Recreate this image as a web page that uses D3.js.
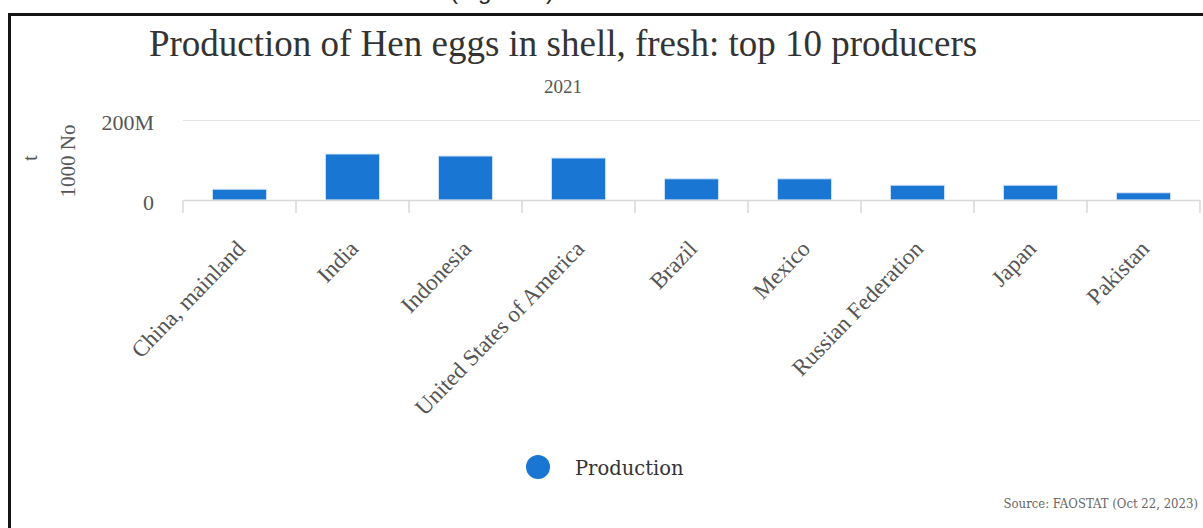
<!DOCTYPE html>
<html>
<head>
<meta charset="utf-8">
<script src="https://cdn.jsdelivr.net/npm/d3@7/dist/d3.min.js"></script>
<style>
  html, body { margin: 0; padding: 0; background: #ffffff; }
  svg { display: block; }
</style>
</head>
<body>
<svg id="chart" width="1203" height="528"></svg>
<script>
// Hen eggs in shell, fresh — production 2021 (unit: 1000 No)
const countries = ["China, mainland", "India", "Indonesia", "United States of America",
                   "Brazil", "Mexico", "Russian Federation", "Japan", "Pakistan"];
const production = [27e6, 115e6, 110e6, 105e6, 53e6, 53e6, 37e6, 37e6, 18e6];
const yTicks = [0, 200e6];
const seriesName = "Production";
const titleText = "Production of Hen eggs in shell, fresh: top 10 producers";
const subtitleText = "2021";
const yTitles = ["t", "1000 No"];
const sourceText = "Source: FAOSTAT (Oct 22, 2023)";
const captionText = "(Figure 1)";

const W = 1203, H = 528;
const plot = { left: 183, right: 1200, top: 120, bottom: 200 };
const barColor = "#1976d2";
const serif = "'Liberation Serif', 'Times New Roman', serif";
const slab = "'DejaVu Serif', serif";

const svg = d3.select("#chart");
svg.append("rect").attr("width", W).attr("height", H).attr("fill", "#fff");

// caption of the page above, mostly out of frame
svg.append("text")
  .attr("x", 450).attr("y", -1)
  .attr("font-family", "'Liberation Sans', Arial, sans-serif")
  .attr("font-size", 24).attr("fill", "#222")
  .text(captionText);

// frame
svg.append("rect")
  .attr("x", 9.5).attr("y", 14.5).attr("width", 1400).attr("height", 800)
  .attr("fill", "none").attr("stroke", "#151515").attr("stroke-width", 3);

const x = d3.scaleBand().domain(countries)
  .range([plot.left, plot.right]).paddingInner(0.52).paddingOuter(0.26);
const y = d3.scaleLinear().domain([0, 200e6]).range([plot.bottom, plot.top]);

// title & subtitle
svg.append("text")
  .attr("x", 563).attr("y", 56).attr("text-anchor", "middle")
  .attr("font-family", serif).attr("font-size", 37).attr("fill", "#333")
  .text(titleText);
svg.append("text")
  .attr("x", 563).attr("y", 93).attr("text-anchor", "middle")
  .attr("font-family", serif).attr("font-size", 19).attr("fill", "#555")
  .text(subtitleText);

// y grid + labels
const yAxis = svg.append("g")
  .attr("transform", `translate(${plot.left},0)`)
  .call(d3.axisLeft(y).tickValues(yTicks).tickFormat(d3.format("~s"))
        .tickSize(-(plot.right - plot.left)).tickPadding(0));
yAxis.select(".domain").remove();
yAxis.selectAll(".tick line").attr("stroke", "#e3e3e3").attr("stroke-width", 1);
yAxis.selectAll(".tick text")
  .attr("x", -29).attr("dy", 9)
  .attr("font-family", serif).attr("font-size", 22).attr("fill", "#555");

// y axis titles
svg.append("text")
  .attr("transform", `translate(75,161) rotate(-90)`)
  .attr("text-anchor", "middle")
  .attr("font-family", serif).attr("font-size", 21).attr("fill", "#555")
  .text(yTitles[1]);
svg.append("text")
  .attr("transform", `translate(37,158) rotate(-90)`)
  .attr("text-anchor", "middle")
  .attr("font-family", serif).attr("font-size", 21).attr("fill", "#555")
  .text(yTitles[0]);

// bars
svg.append("g").selectAll("rect")
  .data(countries)
  .join("rect")
  .attr("x", d => x(d))
  .attr("width", x.bandwidth())
  .attr("y", (d, i) => y(production[i]))
  .attr("height", (d, i) => y(0) - y(production[i]))
  .attr("fill", barColor)
  .attr("stroke", "#d6e6f7").attr("stroke-width", 1);

// x axis
const xAxis = svg.append("g")
  .attr("transform", `translate(0,${plot.bottom})`)
  .call(d3.axisBottom(x).tickSize(0).tickSizeOuter(0));
xAxis.select(".domain").attr("stroke", "#d9d9d9").attr("stroke-width", 1.5);
xAxis.selectAll(".tick text")
  .attr("y", 0).attr("dy", 0)
  .attr("text-anchor", "end")
  .attr("transform", "translate(7,50) rotate(-46)")
  .attr("font-family", serif).attr("font-size", 23).attr("fill", "#555");

// category boundary ticks
const step = x.step();
const bounds = countries.map(d => x(d) + x.bandwidth() / 2 - step / 2)
  .concat([x(countries[countries.length - 1]) + x.bandwidth() / 2 + step / 2]);
xAxis.selectAll("line.bound")
  .data(bounds)
  .join("line").attr("class", "bound")
  .attr("x1", d => d).attr("x2", d => d)
  .attr("y1", 0).attr("y2", 13)
  .attr("stroke", "#d9d9d9").attr("stroke-width", 1.5);

// legend
const legend = svg.append("g").attr("transform", "translate(538,467)");
legend.append("circle").attr("r", 12).attr("fill", barColor);
legend.append("text")
  .attr("x", 37).attr("y", 8)
  .attr("font-family", slab).attr("font-size", 19.5).attr("fill", "#333")
  .text(seriesName);

// source note
svg.append("text")
  .attr("x", 1198).attr("y", 508).attr("text-anchor", "end")
  .attr("font-family", "'DejaVu Serif Condensed', 'DejaVu Serif', serif")
  .attr("font-size", 13).attr("fill", "#666")
  .text(sourceText);
</script>
</body>
</html>
